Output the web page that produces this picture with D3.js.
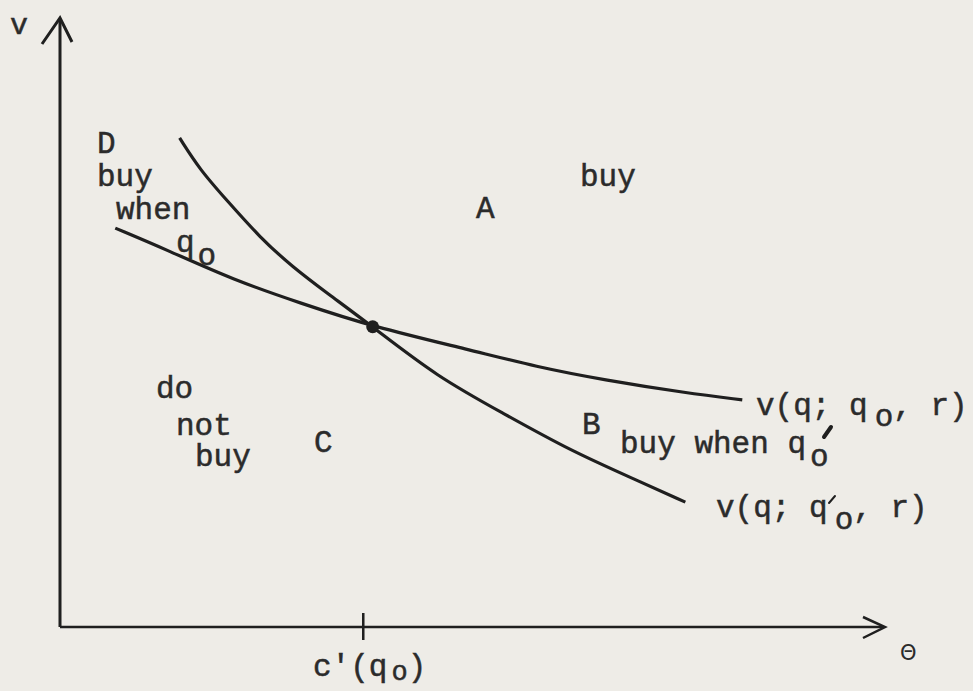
<!DOCTYPE html>
<html>
<head>
  <meta charset="utf-8">
  <title>Buy regions</title>
  <script src="https://d3js.org/d3.v7.min.js"></script>
  <style>
    body { margin: 0; background: #eeece7; }
    svg text { font-family: "Courier New", "Liberation Mono", monospace; fill: #2b2b2b; stroke: #2b2b2b; stroke-width: 0.5; }
  </style>
</head>
<body>
  <svg id="chart"></svg>

  <script>
    // curve data, theta on x, v on y
    var steepCurve = [
      [1.45, 8.03], [1.70, 7.50], [2.02, 7.01], [2.42, 6.40], [2.82, 5.91],
      [3.24, 5.48], [3.79, 4.93], [4.57, 4.11], [5.37, 3.51], [6.18, 2.90],
      [6.99, 2.41], [7.58, 2.05]
    ];
    var flatCurve = [
      [0.67, 6.55], [1.30, 6.19], [2.10, 5.70], [2.91, 5.32], [3.79, 4.93],
      [4.97, 4.55], [5.78, 4.27], [6.58, 4.06], [7.60, 3.84], [8.27, 3.73]
    ];
    var crossing = [3.79, 4.93];
    var tickValues = [3.67];

    var width = 973, height = 691;

    var svg = d3.select("#chart")
      .attr("width", width)
      .attr("height", height);

    var x = d3.scaleLinear().domain([0, 10]).range([60, 885]);
    var y = d3.scaleLinear().domain([0, 10]).range([627, 18]);

    var ink = "#1f1f1f";

    // axes
    var xAxis = svg.append("g")
      .attr("transform", "translate(0," + y(0) + ")")
      .call(d3.axisBottom(x).tickValues(tickValues).tickFormat("").tickSizeOuter(0));
    xAxis.select(".domain").attr("d", "M" + x(0) + ",0H" + (x(10) - 2))
      .attr("stroke", ink).attr("stroke-width", 2.5);
    xAxis.selectAll(".tick line").attr("y1", -14).attr("y2", 13)
      .attr("stroke", ink).attr("stroke-width", 2.5);

    var yAxis = svg.append("g")
      .attr("transform", "translate(" + x(0) + ",0)")
      .call(d3.axisLeft(y).tickValues([]).tickSizeOuter(0));
    yAxis.select(".domain").attr("d", "M0," + y(0) + "V" + (y(10) + 2))
      .attr("stroke", ink).attr("stroke-width", 3);

    // arrow heads
    svg.append("path")
      .attr("d", "M" + (x(0) - 18) + "," + (y(10) + 26) + "L" + x(0) + "," + y(10) + "L" + (x(0) + 12) + "," + (y(10) + 24))
      .attr("fill", "none").attr("stroke", ink).attr("stroke-width", 3);
    svg.append("path")
      .attr("d", "M" + (x(10) - 22) + "," + (y(0) - 10) + "L" + x(10) + "," + y(0) + "L" + (x(10) - 22) + "," + (y(0) + 11))
      .attr("fill", "none").attr("stroke", ink).attr("stroke-width", 2.5);

    // curves
    var line = d3.line()
      .x(function(d) { return x(d[0]); })
      .y(function(d) { return y(d[1]); })
      .curve(d3.curveBasis);

    svg.append("path").datum(steepCurve)
      .attr("d", line).attr("fill", "none").attr("stroke", ink).attr("stroke-width", 3.2);
    svg.append("path").datum(flatCurve)
      .attr("d", line).attr("fill", "none").attr("stroke", ink).attr("stroke-width", 3.2);

    svg.append("circle")
      .attr("cx", x(crossing[0])).attr("cy", y(crossing[1])).attr("r", 6.5)
      .attr("fill", ink);

    // text labels
    function label(tx, ty, str, size) {
      return svg.append("text").attr("x", tx).attr("y", ty)
        .attr("font-size", size || 31).text(str);
    }

    label(10, 34, "v", 30);
    label(97, 153, "D");
    label(97, 186, "buy");
    label(116, 219, "when");
    var q0 = label(176, 252, "q");
    q0.append("tspan").attr("dx", 3).attr("dy", 13).text("o");

    label(476, 218, "A");
    label(580, 186, "buy");

    label(156, 398, "do");
    label(176, 435, "not");
    label(195, 466, "buy");
    label(314, 452, "C");
    label(582, 434, "B");

    var bq = label(620, 453, "buy when q");
    bq.append("tspan").attr("dx", 4).attr("dy", 13).text("o");

    var v1 = label(756, 415, "v(q; q");
    v1.append("tspan").attr("dx", 7).attr("dy", 11).text("o");
    v1.append("tspan").attr("dy", -11).text(", r)");

    var v2 = label(716, 517, "v(q; q");
    v2.append("tspan").attr("dx", 7).attr("dy", 12).text("o");
    v2.append("tspan").attr("dy", -12).text(", r)");

    // typed-over prime marks
    svg.append("path").attr("d", "M831,427L824,437")
      .attr("stroke", ink).attr("stroke-width", 4).attr("stroke-linecap", "round");
    svg.append("path").attr("d", "M835,496L829,503")
      .attr("stroke", ink).attr("stroke-width", 2).attr("stroke-linecap", "round");

    var cq = label(313, 676, "c'(q");
    cq.append("tspan").attr("dx", 4).attr("dy", 4).attr("font-size", 27).text("o");
    cq.append("tspan").attr("dy", -4).attr("font-size", 31).text(")");

    svg.append("text").attr("x", 900).attr("y", 660)
      .attr("font-size", 21).style("font-family", "DejaVu Sans, sans-serif")
      .style("stroke-width", 0)
      .text("\u0398");
  </script>
</body>
</html>
